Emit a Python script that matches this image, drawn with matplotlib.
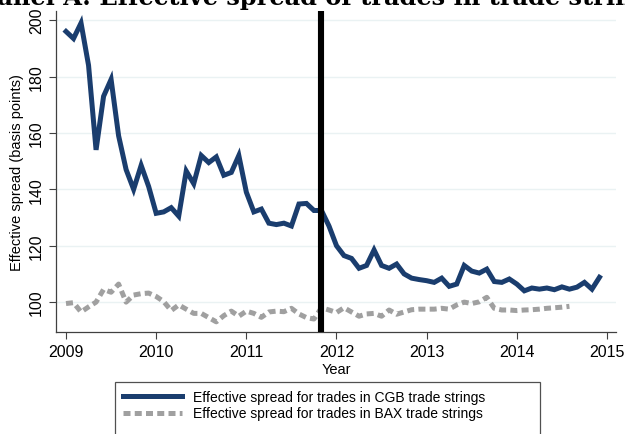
import numpy as np
import matplotlib
matplotlib.use('Agg')
import matplotlib.pyplot as plt
from matplotlib.patches import Rectangle

# monthly effective spreads, Jan 2009 onwards (basis points)
cgb_spread = [196, 193.5, 199, 184, 154, 173, 179, 159, 147, 140, 148.5, 141,
              131.5, 132, 133.5, 130.5, 146.5, 142, 152, 149.5, 151.5, 145, 146, 152,
              139, 132, 133, 128, 127.5, 128, 127, 134.8, 135, 132.5, 132.5, 127,
              120, 116.5, 115.5, 112, 113, 118.5, 113, 112, 113.5, 110, 108.5, 108,
              107.6, 107, 108.5, 105.6, 106.4, 113, 111, 110.3, 111.7, 107.3, 107, 108.2,
              106.4, 104, 105, 104.6, 105, 104.4, 105.4, 104.6, 105.3, 107, 104.6, 108.8]
bax_spread = [99.5, 99.8, 96.5, 98.3, 100, 104.5, 103.5, 106.4, 100, 102.5, 103, 103.2,
              102, 100.2, 97, 99, 97.5, 96, 96, 94.5, 93, 95.2, 96.8, 95,
              96.8, 96, 94.6, 96.5, 96.8, 96.6, 97.8, 95.8, 94.5, 94, 98, 97.2,
              96.3, 98, 96.5, 95, 95.8, 96, 95, 97.2, 95.7, 96.5, 97.3, 97.5,
              97.5, 97.5, 97.8, 97.5, 99, 100, 99.5, 100.1, 101.7, 97.8, 97.2, 97.2,
              97, 97.2, 97.3, 97.5, 97.8, 98, 98.2, 98.5]
event_date = 2011 + 10 / 12
x_ticks = [2009, 2010, 2011, 2012, 2013, 2014, 2015]
y_ticks = [100, 120, 140, 160, 180, 200]

months_cgb = 2009 + np.arange(len(cgb_spread)) / 12
months_bax = 2009 + np.arange(len(bax_spread)) / 12

plt.rcParams['font.family'] = ['Liberation Sans', 'DejaVu Sans']

fig = plt.figure(figsize=(6.25, 4.35), dpi=100)
ax = fig.add_axes([0.0896, 0.2345, 0.896, 0.7375])

for y in y_ticks:
    ax.axhline(y, color='#eaf2f3', lw=1.0, zorder=0)

ax.plot(months_cgb, cgb_spread, color='#1a3d6e', lw=3.6, solid_joinstyle='miter',
        label='Effective spread for trades in CGB trade strings', zorder=3)
ax.plot(months_bax, bax_spread, color='#a0a0a0', lw=3.6, dashes=(1.4, 0.85),
        label='Effective spread for trades in BAX trade strings', zorder=3)
ax.axvline(event_date, color='black', lw=4.4, zorder=4)

ax.set_xlim(2008.889, 2015.10)
ax.set_ylim(89.4, 203.2)
ax.set_xticks(x_ticks)
ax.set_yticks(y_ticks)
ax.tick_params(axis='both', direction='out', length=5, width=0.8, color='#404040', labelsize=11.5)
for lab in ax.get_yticklabels():
    lab.set_rotation(90)
    lab.set_va('center')
for side in ['top', 'right']:
    ax.spines[side].set_visible(False)
for side in ['left', 'bottom']:
    ax.spines[side].set_color('#404040')
    ax.spines[side].set_linewidth(0.9)

ax.set_xlabel('Year', fontsize=10.5, labelpad=2)
ax.set_ylabel('Effective spread (basis points)', fontsize=10.5, labelpad=4)

# title sits mostly above the top edge, as in the source image
fig.text(0.515, 0.989, 'Panel A: Effective spread of trades in trade strings',
         ha='center', va='baseline', fontsize=17.3, fontweight='bold', family='DejaVu Serif')

# legend box runs past the bottom edge of the image
leg_top = 1 - 383 / 435
fig.patches.append(Rectangle((115 / 625, leg_top - 0.2), 425 / 625, 0.2,
                             transform=fig.transFigure, facecolor='white',
                             edgecolor='#505050', lw=0.9))
leg = fig.legend(loc='upper left', bbox_to_anchor=(115 / 625, leg_top - 0.2, 425 / 625, 0.2),
                 mode='expand', fontsize=10, frameon=False,
                 handlelength=4.2, borderaxespad=0, borderpad=0.6, labelspacing=0.15)

fig.savefig('out.png', dpi=100)
